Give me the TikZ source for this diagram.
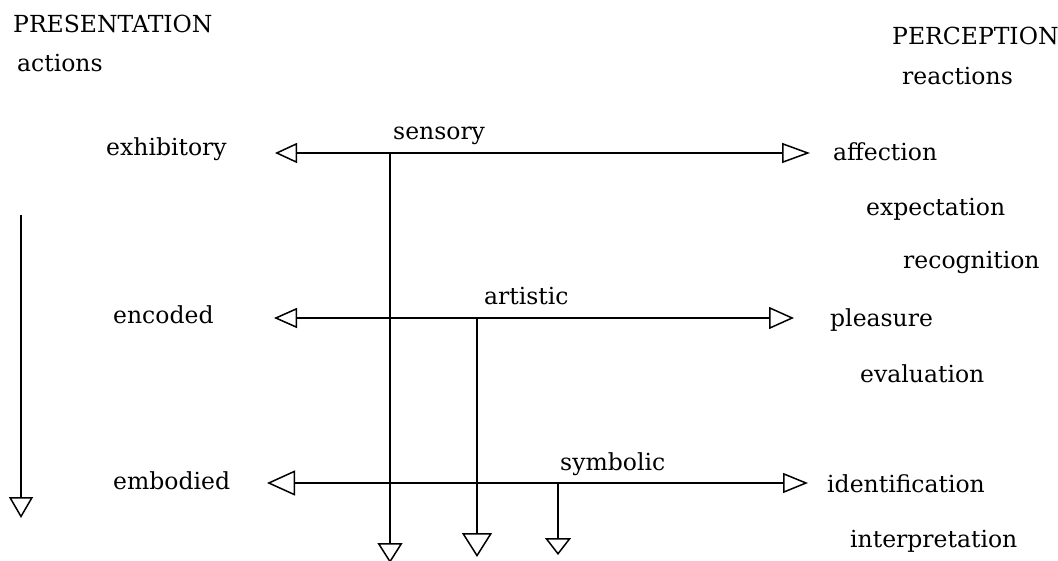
\documentclass[tikz,border=0pt]{standalone}
\usepackage{fontspec}
\setmainfont{DejaVu Serif}
\usetikzlibrary{arrows.meta}
\tikzset{
  lbl/.style={anchor=base west, inner sep=0pt, font=\fontsize{23.5}{27}\selectfont},
  conn/.style={line width=1.5pt, black},
}
\begin{document}
\begin{tikzpicture}[x=1pt, y=-1pt]
\useasboundingbox (0,0) rectangle (1058,561);
% headings
\node[lbl] (pres) at (13,33) {PRESENTATION};
\node[lbl] (act) at (17,72) {actions};
\node[lbl] (perc) at (892,45) {PERCEPTION};
\node[lbl] (react) at (902,85) {reactions};
% left labels
\node[lbl] (exh) at (106,156) {exhibitory};
\node[lbl] (enc) at (113,324) {encoded};
\node[lbl] (emb) at (113,489) {embodied};
% line labels
\node[lbl] (sens) at (393,140) {sensory};
\node[lbl] (art) at (484,305) {artistic};
\node[lbl] (sym) at (560,470) {symbolic};
% right labels
\node[lbl] (aff) at (833,161) {affection};
\node[lbl] (expc) at (866,216) {expectation};
\node[lbl] (recg) at (903,269) {recognition};
\node[lbl] (pleas) at (830,327) {pleasure};
\node[lbl] (evalu) at (860,382) {evaluation};
\node[lbl] (ident) at (827,492) {identification};
\node[lbl] (interp) at (850,547) {interpretation};
% coordinates
\coordinate (h1l) at (275,153);
\coordinate (h1r) at (810,153);
\coordinate (h2l) at (274,318);
\coordinate (h2r) at (794,318);
\coordinate (h3l) at (267,483);
\coordinate (h3r) at (808,483);
\coordinate (v1t) at (390,153);
\coordinate (v1b) at (390,563);
\coordinate (v2t) at (477,318);
\coordinate (v2b) at (477,557);
\coordinate (v3t) at (558,483);
\coordinate (v3b) at (558,555);
\coordinate (lat) at (21,215);
\coordinate (lab) at (21,518);
% connectors
\draw[conn, {Triangle[open,length=22pt,width=20pt]}-{Triangle[open,length=28pt,width=20pt]}] (h1l) -- (h1r);
\draw[conn, {Triangle[open,length=23pt,width=20pt]}-{Triangle[open,length=25pt,width=22pt]}] (h2l) -- (h2r);
\draw[conn, {Triangle[open,length=28pt,width=25pt]}-{Triangle[open,length=25pt,width=20pt]}] (h3l) -- (h3r);
\draw[conn, -{Triangle[open,length=20pt,width=25pt]}] (v1t) -- (v1b);
\draw[conn, -{Triangle[open,length=24pt,width=30pt]}] (v2t) -- (v2b);
\draw[conn, -{Triangle[open,length=17pt,width=26pt]}] (v3t) -- (v3b);
\draw[conn, -{Triangle[open,length=21pt,width=24pt]}] (lat) -- (lab);
\end{tikzpicture}
\end{document}
